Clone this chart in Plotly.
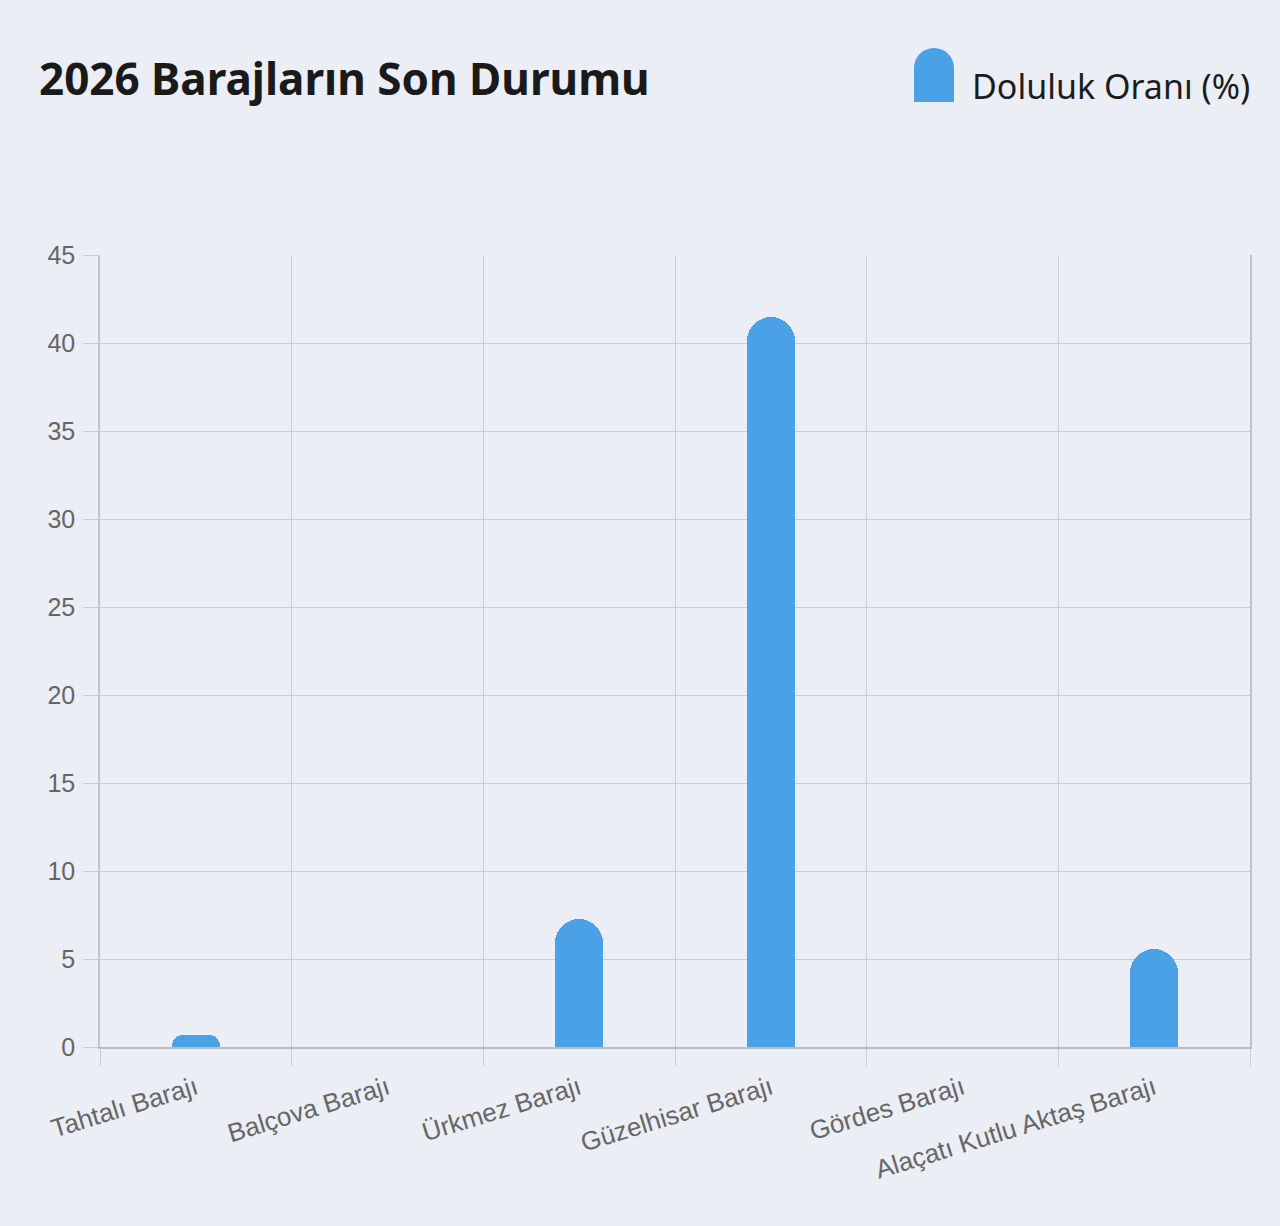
import plotly.graph_objects as go

# dam names and fill rates (%)
barajlar = ["Tahtalı Barajı", "Balçova Barajı", "Ürkmez Barajı",
            "Güzelhisar Barajı", "Gördes Barajı", "Alaçatı Kutlu Aktaş Barajı"]
doluluk = [0.68, 0, 7.3, 41.5, 0, 5.55]

y_ticks = [0, 5, 10, 15, 20, 25, 30, 35, 40, 45]

W, H = 1280, 1226
L, R, T, B = 100, 30, 255, 179
bg = "#ebeef4"
bar_color = "#4aa1e6"
grid = "#cacdd3"


def px_x(p):
    return (p - L) / (W - L - R)


def px_y(p):
    return (H - B - p) / (H - T - B)


fig = go.Figure(go.Bar(
    x=barajlar,
    y=doluluk,
    width=0.25,
    marker=dict(color=bar_color, cornerradius="50%", line=dict(width=0)),
    name="Doluluk Oranı (%)",
    showlegend=False,
))

# legend drawn by hand so the icon can have a rounded top
fig.add_shape(type="circle", xref="paper", yref="paper",
              x0=px_x(914), x1=px_x(954), y0=px_y(88), y1=px_y(48),
              fillcolor=bar_color, line=dict(width=0), layer="above")
fig.add_shape(type="rect", xref="paper", yref="paper",
              x0=px_x(914), x1=px_x(954), y0=px_y(102), y1=px_y(68),
              fillcolor=bar_color, line=dict(width=0), layer="above")
fig.add_annotation(text="Doluluk Oranı (%)", xref="paper", yref="paper",
                   x=px_x(970), y=px_y(86), xanchor="left", yanchor="middle",
                   showarrow=False, font=dict(family="Noto Sans", size=34, color="#1c1c1c"))

fig.update_layout(
    width=W, height=H,
    margin=dict(l=L, r=R, t=T, b=B),
    paper_bgcolor=bg, plot_bgcolor=bg,
    title=dict(text="<b>2026 Barajların Son Durumu</b>", xref="container", yref="container",
               x=39 / W, y=1 - 80 / H, xanchor="left", yanchor="middle",
               font=dict(family="Noto Sans", size=44, color="#1a1a1a")),
    bargap=0,
)

fig.update_xaxes(
    type="category", tickson="boundaries", ticks="outside", ticklen=17,
    tickcolor=grid, showgrid=True, gridcolor=grid, gridwidth=1.3,
    showline=True, linecolor="#b8bcc3", linewidth=1.5,
    tickangle=-17, tickfont=dict(family="Liberation Sans", size=26, color="#666666"),
    ticklabelstandoff=14,
    range=[-0.5, 5.5],
)
fig.update_yaxes(
    range=[0, 45], tickvals=y_ticks, ticks="outside", ticklen=15, tickcolor=grid,
    showgrid=True, gridcolor=grid, gridwidth=1.3, zeroline=False,
    showline=True, linecolor="#c0c3ca", linewidth=1.5, mirror=True,
    tickfont=dict(family="Liberation Sans", size=25, color="#666666"),
    ticklabelstandoff=3,
)

fig.write_html("out.html", config={"displayModeBar": False},
               post_script="document.body.style.margin='0';document.body.style.background='#ebeef4';")
